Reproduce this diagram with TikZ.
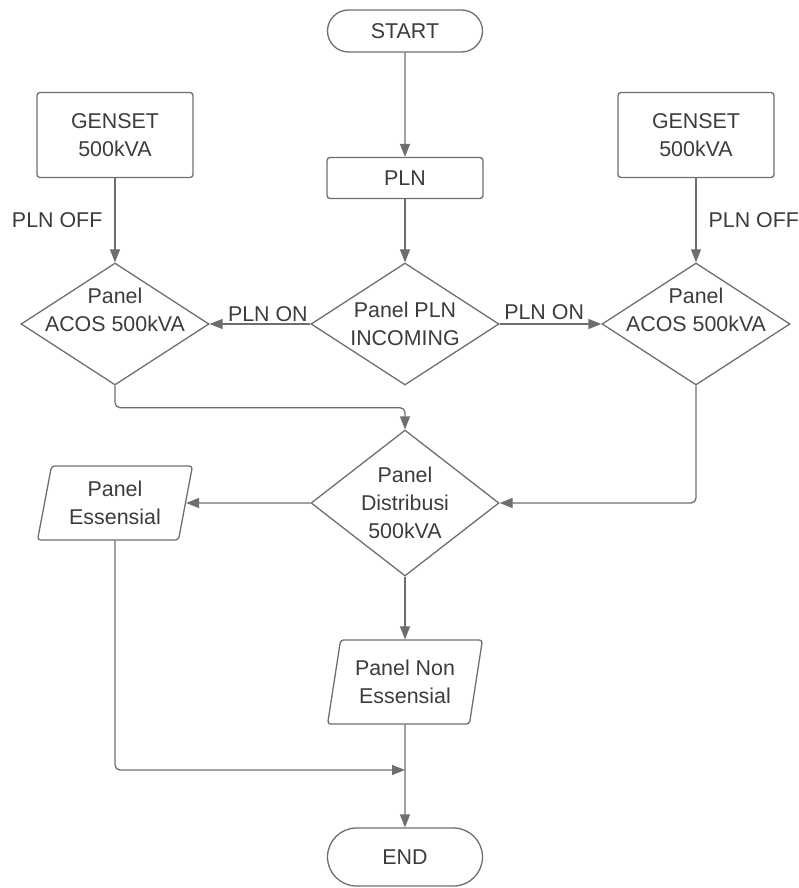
\documentclass[tikz,border=0pt]{standalone}
\usepackage{fontspec}
\setmainfont{Liberation Sans}
\usetikzlibrary{shapes.geometric,shapes.misc,arrows.meta}
\definecolor{linec}{HTML}{6E6E6E}
\definecolor{textc}{HTML}{3C3C3C}
\begin{document}
\begin{tikzpicture}[x=1pt, y=-1pt, font=\fontsize{21.4}{28}\selectfont, text=textc,
  terminal/.style={rounded rectangle,draw=linec,line width=1.3pt,minimum width=155pt,minimum height=42pt,inner sep=0pt},
  process/.style={rectangle,draw=linec,line width=1.3pt,rounded corners=3pt,minimum width=156pt,minimum height=85pt,inner sep=0pt,align=center},
  decision/.style={diamond,draw=linec,line width=1.3pt,minimum width=188pt,minimum height=122pt,inner sep=0pt},
  io/.style={trapezium,trapezium left angle=77,trapezium right angle=103,trapezium stretches=true,draw=linec,line width=1.3pt,rounded corners=3pt,minimum width=155pt,minimum height=74pt,inner sep=0pt,align=center},
  dtext/.style={align=center},
  arr/.style={draw=linec,line width=1.3pt,rounded corners=5pt,-{Triangle[length=13pt,width=10pt]}}]
\useasboundingbox (0,0) rectangle (798,888);

\node[terminal] at (405,31)(start) {START};
\node[process,minimum height=41pt] at (405,178)(pln) {PLN};
\node[process] at (115,135)(gensetL) {GENSET\\500kVA};
\node[process] at (696,135)(gensetR) {GENSET\\500kVA};
\node[decision,label={[dtext]center:Panel PLN\\INCOMING}] at (405,324)(inc) {};
\node[decision,label={[dtext,yshift=14pt]center:Panel\\ACOS 500kVA}] at (115,324)(acosL) {};
\node[decision,label={[dtext,yshift=14pt]center:Panel\\ACOS 500kVA}] at (696,324)(acosR) {};
\node[decision,minimum height=146pt,label={[dtext]center:Panel\\Distribusi\\500kVA}] at (405,503)(dist) {};
\node[io] at (115,503)(ess) {Panel\\Essensial};
\node[io,minimum height=84pt] at (405,682)(noness) {Panel Non\\Essensial};
\node[terminal,minimum height=58pt] at (405,857)(end) {END};
\coordinate (join) at (405,770);

\draw[arr] (start) -- (pln);
\draw[arr] (pln) -- (inc);
\draw[arr] (gensetL) -- node[midway,left,inner sep=12pt] {PLN OFF} (acosL);
\draw[arr] (gensetR) -- node[midway,right,inner sep=12pt] {PLN OFF} (acosR);
\draw[arr] (inc) -- node[pos=0,anchor=south east,inner sep=2pt] {PLN ON} (acosL);
\draw[arr] (inc) -- node[pos=0,anchor=south west,inner sep=4pt] {PLN ON} (acosR);
\draw[arr] (acosL.south) -- ++(0,22) -| (dist.north);
\draw[arr] (acosR.south) |- (dist.east);
\draw[arr] (dist) -- (ess);
\draw[arr] (dist) -- (noness);
\draw[arr] (ess.south) |- (join);
\draw[arr] (noness) -- (end);

\end{tikzpicture}
\end{document}
